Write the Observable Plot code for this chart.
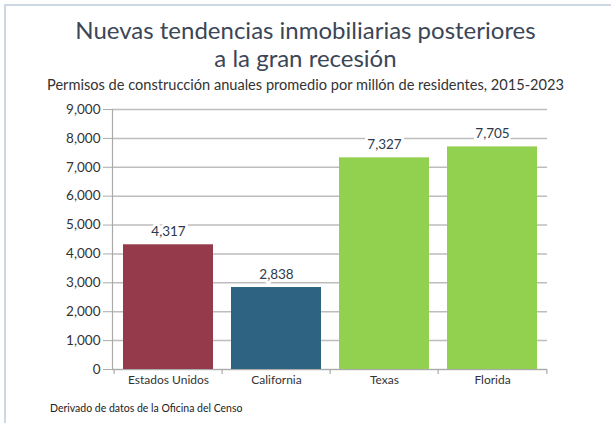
<!DOCTYPE html>
<html>
<head>
<meta charset="utf-8">
<script src="https://cdn.jsdelivr.net/npm/d3@7"></script>
<script src="https://cdn.jsdelivr.net/npm/@observablehq/plot@0.6"></script>
<style>
  html, body { margin: 0; padding: 0; background: #fff; }
  #wrap { position: relative; width: 611px; height: 423px; overflow: hidden; font-family: Lato, "Open Sans", sans-serif; }
  #frame { position: absolute; left: 4px; top: 4px; width: 620px; height: 430px; border-left: 2px solid #cdd8e3; border-top: 2px solid #cdd8e3; }
  #title { position: absolute; left: 0; width: 611px; top: 16px; text-align: center; font-size: 24px; line-height: 28px; color: #3b4657; }
  #subtitle { position: absolute; left: 0; width: 611px; top: 76px; text-align: center; font-size: 14.6px; line-height: 18px; color: #333; white-space: nowrap; }
  #chart { position: absolute; left: 0; top: 95px; }
  #caption { position: absolute; left: 50px; top: 400px; font-size: 10.5px; line-height: 16px; color: #222; }
</style>
</head>
<body>
<div id="wrap">
  <div id="frame"></div>
  <div id="title">Nuevas tendencias inmobiliarias posteriores<br>a la gran recesión</div>
  <div id="subtitle">Permisos de construcción anuales promedio por millón de residentes, 2015-2023</div>
  <div id="chart"></div>
  <div id="caption">Derivado de datos de la Oficina del Censo</div>
</div>
<script>
const categories = ["Estados Unidos", "California", "Texas", "Florida"];
const values = [4317, 2838, 7327, 7705];
const barColors = ["#953a4a", "#2e6482", "#92d050", "#92d050"];
const yTicks = [0, 1000, 2000, 3000, 4000, 5000, 6000, 7000, 8000, 9000];

const data = categories.map((c, i) => ({category: c, value: values[i], color: barColors[i]}));

const W = 611, H = 304, ML = 112, MR = 64, MT = 14, MB = 30;
const step = (W - ML - MR) / categories.length;
const fmt = d3.format(",");

const chart = Plot.plot({
  width: W,
  height: H,
  marginLeft: ML,
  marginRight: MR,
  marginTop: MT,
  marginBottom: MB,
  style: {fontFamily: "Lato, 'Open Sans', sans-serif", color: "#333", background: "transparent"},
  x: {domain: categories, paddingInner: 0.17, paddingOuter: 0.085, label: null},
  y: {domain: [0, 9000], label: null},
  marks: [
    Plot.gridY(yTicks, {stroke: "#bdbdbd", strokeOpacity: 1, strokeWidth: 1.5}),
    Plot.barY(data, {x: "category", y: "value", fill: "color"}),
    Plot.ruleY([0], {stroke: "#aaa", strokeWidth: 1.2}),
    Plot.frame({anchor: "left", stroke: "#aaa", strokeWidth: 1.2}),
    Plot.ruleX(categories, {x: d => d, y1: 0, y2: 0, dx: -step / 2, insetBottom: -5, stroke: "#aaa", strokeWidth: 1.2}),
    Plot.ruleX([categories[categories.length - 1]], {x: d => d, y1: 0, y2: 0, dx: step / 2, insetBottom: -5, stroke: "#aaa", strokeWidth: 1.2}),
    Plot.text(data, {x: "category", y: "value", text: d => fmt(d.value), lineAnchor: "bottom", dy: -9, fontSize: 13.5, fill: "#2e3a4a", stroke: "white", strokeWidth: 6}),
    Plot.axisY(yTicks, {tickFormat: fmt, tickSize: 9, tickPadding: 3, stroke: "#aaa", fontSize: 13.5, fill: "#333", label: null}),
    Plot.axisX({tickSize: 0, tickPadding: 6, fontSize: 12, fill: "#333", label: null})
  ]
});
document.getElementById("chart").appendChild(chart);
</script>
</body>
</html>
